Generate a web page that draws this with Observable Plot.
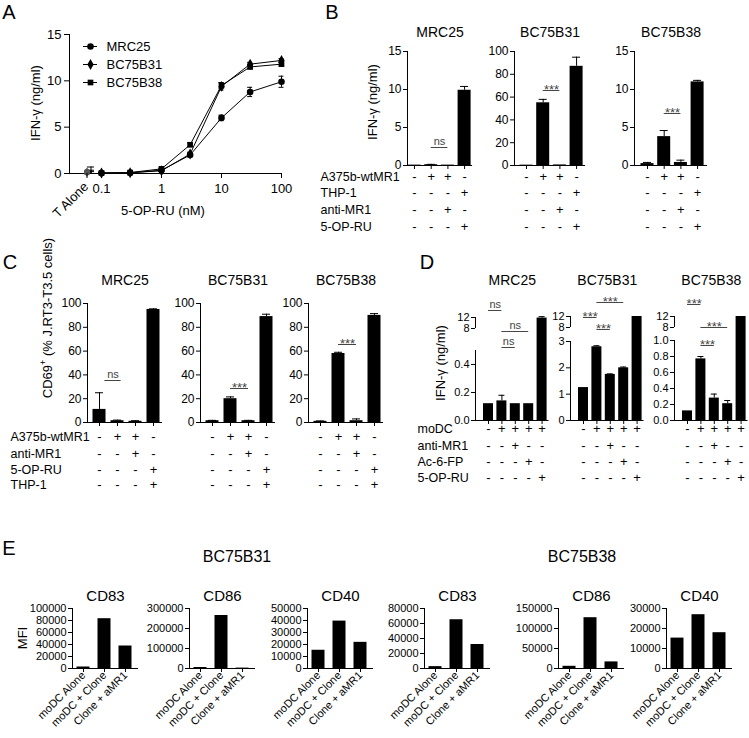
<!DOCTYPE html>
<html><head><meta charset="utf-8">
<script src="https://cdn.jsdelivr.net/npm/d3@7"></script>
<script src="https://cdn.jsdelivr.net/npm/@observablehq/plot@0.6"></script>
<style>
body{margin:0;background:#fff;}
#fig{position:relative;width:749px;height:738px;overflow:hidden;font-family:"Liberation Sans",Arial,Helvetica,sans-serif;color:#000;background:#fff;}
.abs{position:absolute;white-space:nowrap;line-height:1;}
#fig svg{overflow:visible;}
sup{font-size:70%;vertical-align:top;position:relative;top:-0.2em;}
</style></head><body><div id="fig"></div>
<script>
// ---------------- DATA ----------------
// Panel A: IFN-γ vs 5-OP-RU dose
const doses = [0.1, 0.3, 1, 3, 10, 30, 100];
const seriesA = ["MRC25", "BC75B31", "BC75B38"];
const aMRC25 = [0.05, 0.08, 0.35, 2.0, 6.0, 8.8, 9.9];
const aMRC25Err = [0.05, 0.05, 0.1, 0.2, 0.3, 0.5, 0.6];
const aBC75B31 = [0.05, 0.08, 0.3, 2.1, 9.4, 11.8, 12.2];
const aBC75B31Err = [0.05, 0.05, 0.1, 0.2, 0.4, 0.2, 0.2];
const aBC75B38 = [0.05, 0.1, 0.5, 3.1, 9.5, 11.5, 11.8];
const aBC75B38Err = [0.05, 0.05, 0.1, 0.2, 0.3, 0.2, 0.2];
const tAloneLabel = "T Alone";
const tAlone = [0.2, 0.15, 0.1];
const tAloneErr = [0.5, 0.2, 0.1];
const aTicksX = [0.1, 1, 10, 100];
const aTicksY = [0, 5, 10, 15];

// Panel B
const bRows = ["A375b-wtMR1", "THP-1", "anti-MR1", "5-OP-RU"];
const bSigns = [["-","+","+","-"], ["-","-","-","+"], ["-","-","+","-"], ["-","-","-","+"]];
const bMRC25 = [0.05, 0.1, 0.05, 9.9];
const bMRC25Err = [0, 0.05, 0, 0.5];
const bBC75B31 = [0.3, 55, 0.5, 87];
const bBC75B31Err = [0, 3, 0, 8];
const bBC75B38 = [0.25, 3.8, 0.4, 11.0];
const bBC75B38Err = [0.15, 0.8, 0.3, 0.2];
const bTicks15 = [0, 5, 10, 15];
const bTicks100 = [0, 20, 40, 60, 80, 100];

// Panel C
const cRows = ["A375b-wtMR1", "anti-MR1", "5-OP-RU", "THP-1"];
const cSigns = [["-","+","+","-"], ["-","-","+","-"], ["-","-","-","+"], ["-","-","-","+"]];
const cMRC25 = [11, 1.5, 1.0, 95];
const cMRC25Err = [14, 0.5, 0.5, 0.5];
const cBC75B31 = [1.5, 20, 1.5, 89];
const cBC75B31Err = [0.3, 1.5, 0.3, 2];
const cBC75B38 = [1.0, 58, 1.5, 90];
const cBC75B38Err = [0.3, 1, 1.5, 1.5];
const cTicks = [0, 20, 40, 60, 80, 100];

// Panel D
const dRows = ["moDC", "anti-MR1", "Ac-6-FP", "5-OP-RU"];
const dSigns = [["-","+","+","+","+"], ["-","-","+","-","-"], ["-","-","-","+","-"], ["-","-","-","-","+"]];
const dMRC25 = [0.12, 0.14, 0.12, 0.12, 11.8];
const dMRC25Err = [0, 0.04, 0, 0, 0.5];
const dBC75B31 = [1.25, 2.8, 1.75, 2.0, 12];
const dBC75B31Err = [0, 0.04, 0.02, 0.03, 0];
const dBC75B38 = [0.12, 0.77, 0.28, 0.21, 12];
const dBC75B38Err = [0, 0.03, 0.05, 0.04, 0];
const dTicksMRC25 = [0, 0.2, 0.4, 8, 12];
const dTicksBC75B31 = [0, 1, 2, 3, 8, 12];
const dTicksBC75B38 = [0, 0.2, 0.4, 0.6, 0.8, 1.0, 8, 12];

// Panel E
const eConditions = ["moDC Alone", "moDC + Clone", "Clone + aMR1"];
const eB31CD83 = [2500, 83000, 37500];
const eB31CD86 = [5000, 265000, 2000];
const eB31CD40 = [15200, 39500, 21800];
const eB38CD83 = [2500, 65000, 32000];
const eB38CD86 = [5500, 127000, 16500];
const eB38CD40 = [15200, 26900, 17900];
const eTicksB31CD83 = [0, 20000, 40000, 60000, 80000, 100000];
const eTicksB31CD86 = [0, 100000, 200000, 300000];
const eTicksB31CD40 = [0, 10000, 20000, 30000, 40000, 50000];
const eTicksB38CD83 = [0, 20000, 40000, 60000, 80000];
const eTicksB38CD86 = [0, 50000, 100000, 150000];
const eTicksB38CD40 = [0, 10000, 20000, 30000];

// ---------------- RENDERING ----------------
const FONT = '"Liberation Sans", Arial, Helvetica, sans-serif';
const fig = document.getElementById("fig");
const baseStyle = {fontFamily: FONT, fontSize: "12px", color: "black", background: "transparent", overflow: "visible"};

function addText(html, x, y, {size = 13, rotate = 0, anchor = "middle"} = {}) {
  const d = document.createElement("div");
  d.className = "abs";
  d.innerHTML = html;
  d.style.fontSize = size + "px";
  d.style.left = x + "px";
  d.style.top = y + "px";
  const tx = anchor === "middle" ? "-50%" : anchor === "end" ? "-100%" : "0%";
  d.style.transform = `translate(${tx}, -50%) rotate(${rotate}deg)`;
  fig.appendChild(d);
}
function put(svg, left, top) {
  svg.style.position = "absolute";
  svg.style.left = left + "px";
  svg.style.top = top + "px";
  fig.appendChild(svg);
}

function barPanel(c) {
  const n = c.values.length;
  const ML = 90, MR = 20, MT = 70, MB = 110;
  const frameW = c.first + (n - 1) * c.step + c.end;
  const frameH = c.bottom - c.top;
  const W = ML + frameW + MR, H = MT + frameH + MB;
  const offX = c.axisX - ML, offY = c.top - MT;
  const idx = d3.range(1, n + 1);
  const x0 = 1 - c.first / c.step, x1 = n + c.end / c.step;
  const yDom = c.yDomain;
  const fmt = c.yFmt || (d => String(d));
  let yOpts, invertPage, axisTicks, axisFmt;
  if (c.yRange) {
    // broken axis: value -> pixels above the baseline, piecewise
    const f = d3.scaleLinear().domain(yDom).range(c.yRange.map(p => c.bottom - p));
    yOpts = {domain: [0, frameH], range: [MT + frameH, MT], transform: v => f(v)};
    invertPage = p => f.invert(c.bottom - p);
    axisTicks = c.yTicks.map(t => f(t));
    axisFmt = v => fmt(Math.round(f.invert(v) * 1000) / 1000);
  } else {
    const yPage = d3.scaleLinear().domain(yDom).range([c.bottom, c.top]);
    yOpts = {domain: yDom, range: [MT + frameH, MT]};
    invertPage = p => yPage.invert(p);
    axisTicks = c.yTicks;
    axisFmt = fmt;
  }
  const data = idx.map(i => ({i, v: c.values[i - 1], e: c.errs ? c.errs[i - 1] : 0}));
  const errData = data.filter(d => d.e > 0);
  const hw = c.barW / 2 / c.step;
  const cap = (c.capW ?? 4) / c.step;
  const segs = c.segments || [[yDom[0], yDom[yDom.length - 1]]];
  const tickFont = c.tickFont || 12;
  const marks = [
    Plot.rect(data, {x1: d => d.i - hw, x2: d => d.i + hw, y1: 0, y2: "v", fill: "black"}),
    Plot.ruleX(errData, {x: "i", y1: "v", y2: d => d.v + d.e, strokeWidth: 1}),
    Plot.ruleY(errData, {y: d => d.v + d.e, x1: d => d.i - cap, x2: d => d.i + cap, strokeWidth: 1}),
    Plot.ruleY([0], {strokeWidth: 1}),
    ...segs.map(s => Plot.ruleX([x0], {y1: s[0], y2: s[1], strokeWidth: 1})),
    Plot.axisY({ticks: axisTicks, tickFormat: axisFmt, tickSize: 4, tickPadding: 2, fontSize: tickFont, label: null}),
    c.xLabels
      ? Plot.axisX({ticks: idx, tickFormat: i => c.xLabels[i - 1], tickSize: 4, tickPadding: 1, tickRotate: -45, fontSize: c.xFont || 11, label: null})
      : Plot.axisX({ticks: idx, tickFormat: () => "", tickSize: 4, label: null}),
    Plot.text([c.title], {frameAnchor: "top", dy: c.titleY - c.top, fontSize: c.titleFont || 14})
  ];
  if (c.signs) {
    c.signs.forEach((row, r) => {
      marks.push(Plot.text(idx, {x: d => d, text: d => row[d - 1], frameAnchor: "bottom", dy: c.rowY[r] - c.bottom, fontSize: 13}));
    });
  }
  if (c.rowLabels) {
    c.rowLabels.forEach((lab, r) => {
      marks.push(Plot.text([lab], {frameAnchor: "bottom-left", dx: c.rowLabelX - c.axisX, dy: c.rowY[r] - c.bottom, textAnchor: "start", fontSize: 12.5}));
    });
  }
  if (c.ann) {
    marks.push(Plot.ruleY(c.ann, {y: a => invertPage(a.y), x1: a => a.from, x2: a => a.to, stroke: "#444", strokeWidth: 1}));
    const ns = c.ann.filter(a => a.label === "ns"), st = c.ann.filter(a => a.label !== "ns");
    marks.push(Plot.text(ns, {x: a => (a.from + a.to) / 2, y: a => invertPage(a.y), dy: -6, text: "label", fontSize: 11, fill: "#444"}));
    marks.push(Plot.text(st, {x: a => (a.from + a.to) / 2, y: a => invertPage(a.y), dy: -1, text: "label", fontSize: 13, fill: "#444"}));
  }
  const svg = Plot.plot({
    width: W, height: H, marginLeft: ML, marginRight: MR, marginTop: MT, marginBottom: MB,
    x: {domain: [x0, x1]},
    y: yOpts,
    style: baseStyle,
    marks
  });
  put(svg, offX, offY);
}

// ---------- Panel A ----------
(function panelA() {
  const left = 69, right = 281, top = 34, bottom = 173;
  const ML = 70, MR = 30, MT = 20, MB = 60;
  const W = ML + (right - left) + MR, H = MT + (bottom - top) + MB;
  const offX = left - ML, offY = top - MT;
  const xPage = d3.scaleLog().domain([0.1, 100]).range([101, 281]);
  const xAxisVal = xPage.invert(left);
  const vals = [aMRC25, aBC75B31, aBC75B38], errs = [aMRC25Err, aBC75B31Err, aBC75B38Err];
  const long = seriesA.flatMap((s, k) => doses.map((d, j) => ({series: s, dose: d, v: vals[k][j], e: errs[k][j]})));
  const sym = {MRC25: ["circle", 3.3], BC75B31: ["diamond", 3.3], BC75B38: ["square", 3.2]};
  const marks = [
    Plot.ruleY([0], {strokeWidth: 1}),
    Plot.ruleX([xAxisVal], {y1: 0, y2: 15, strokeWidth: 1}),
    Plot.line(long, {x: "dose", y: "v", z: "series", stroke: "black", strokeWidth: 1}),
    Plot.ruleX(long, {x: "dose", y1: d => d.v - d.e, y2: d => d.v + d.e, strokeWidth: 1}),
    Plot.ruleY(long, {y: d => d.v + d.e, x1: d => d.dose / 1.1, x2: d => d.dose * 1.1, strokeWidth: 1}),
    Plot.ruleY(long, {y: d => d.v - d.e, x1: d => d.dose / 1.1, x2: d => d.dose * 1.1, strokeWidth: 1}),
    ...seriesA.map(s => Plot.dot(long.filter(d => d.series === s), {x: "dose", y: "v", symbol: sym[s][0], r: sym[s][1], fill: "black", stroke: "none"})),
    Plot.axisY({ticks: aTicksY, tickSize: 5, tickPadding: 3, fontSize: 13, label: null}),
    Plot.axisX({ticks: aTicksX, tickFormat: d => String(d), tickSize: 5, tickPadding: 5, fontSize: 13, label: null})
  ];
  const svg = Plot.plot({
    width: W, height: H, marginLeft: ML, marginRight: MR, marginTop: MT, marginBottom: MB,
    x: {type: "log", domain: [0.1, 100], range: [101 - offX, 281 - offX]},
    y: {domain: [0, 15], range: [bottom - offY, top - offY]},
    style: baseStyle, marks
  });
  put(svg, offX, offY);

  // T Alone category segment
  const tl = 69, tr = 103, tML = 10, tMR = 10;
  const tW = tML + (tr - tl) + tMR;
  const tData = seriesA.map((s, k) => ({series: s, cat: tAloneLabel, v: tAlone[k], e: tAloneErr[k]}));
  const svg2 = Plot.plot({
    width: tW, height: H, marginLeft: tML, marginRight: tMR, marginTop: MT, marginBottom: MB,
    x: {type: "band", domain: [tAloneLabel], paddingInner: 0.8, paddingOuter: 0.4},
    y: {domain: [0, 15], range: [bottom - offY, top - offY], axis: null},
    style: baseStyle,
    marks: [
      Plot.ruleX(tData, {x: "cat", y1: d => Math.max(0, d.v - d.e), y2: d => d.v + d.e, dx: 4, strokeWidth: 1}),
      Plot.tickY(tData, {x: "cat", y: d => d.v + d.e, dx: 4}),
      ...seriesA.map(s => Plot.dot(tData.filter(d => d.series === s), {x: "cat", y: "v", symbol: sym[s][0], r: sym[s][1] * 0.9, fill: "#555"})),
      Plot.axisX({ticks: [tAloneLabel], tickFormat: () => "", tickSize: 5, label: null}),
      Plot.text([tAloneLabel], {x: d => d, frameAnchor: "bottom", dy: 14, dx: 2, rotate: -45, textAnchor: "end", fontSize: 13})
    ]
  });
  put(svg2, tl - tML, offY);

  // legend
  const leg = Plot.plot({
    width: 110, height: 60, margin: 0,
    x: {domain: [0, 110], range: [0, 110], axis: null},
    y: {type: "point", domain: seriesA, range: [9.7, 45.7], padding: 0, axis: null},
    style: baseStyle,
    marks: [
      Plot.ruleY(seriesA, {y: d => d, x1: 3, x2: 17, strokeWidth: 1}),
      ...seriesA.map(s => Plot.dot([s], {x: 10, y: d => d, symbol: sym[s][0], r: sym[s][1], fill: "black"})),
      Plot.text(seriesA, {x: 26, y: d => d, text: d => d, textAnchor: "start", fontSize: 13})
    ]
  });
  put(leg, 80, 36);
})();

// ---------- Panel B ----------
const bCommon = {top: 51, bottom: 165, step: 16.7, barW: 13, titleY: 27, rowY: [181, 197, 214, 231], signs: bSigns};
barPanel({...bCommon, axisX: 407, first: 7, end: 8, values: bMRC25, errs: bMRC25Err, yDomain: [0, 15], yTicks: bTicks15, title: "MRC25",
  rowLabels: bRows, rowLabelX: 320, ann: [{from: 2, to: 3, label: "ns", y: 147}]});
barPanel({...bCommon, axisX: 514, first: 12, end: 9, values: bBC75B31, errs: bBC75B31Err, yDomain: [0, 100], yTicks: bTicks100, title: "BC75B31",
  ann: [{from: 2, to: 3, label: "***", y: 90}]});
barPanel({...bCommon, axisX: 634, first: 13, end: 10, values: bBC75B38, errs: bBC75B38Err, yDomain: [0, 15], yTicks: bTicks15, title: "BC75B38",
  ann: [{from: 2, to: 3, label: "***", y: 113}]});

// ---------- Panel C ----------
const cCommon = {top: 303, bottom: 422, step: 18, first: 12, end: 9, barW: 13, titleY: 275, rowY: [440, 457, 473, 488], signs: cSigns, yDomain: [0, 100], yTicks: cTicks};
barPanel({...cCommon, axisX: 87, values: cMRC25, errs: cMRC25Err, title: "MRC25", rowLabels: cRows, rowLabelX: 10,
  ann: [{from: 1.3, to: 2.2, label: "ns", y: 380}]});
barPanel({...cCommon, axisX: 200, values: cBC75B31, errs: cBC75B31Err, title: "BC75B31", ann: [{from: 2, to: 3, label: "***", y: 388}]});
barPanel({...cCommon, axisX: 308, values: cBC75B38, errs: cBC75B38Err, title: "BC75B38", ann: [{from: 2, to: 3, label: "***", y: 344}]});

// ---------- Panel D ----------
const fmt1 = d => d >= 8 ? String(d) : d.toFixed(1);
const dCommon = {top: 316, bottom: 420, step: 13.4, first: 13, end: 7, barW: 10, capW: 3, titleY: 275, rowY: [433, 450, 466, 482], signs: dSigns, tickFont: 11};
barPanel({...dCommon, axisX: 475, values: dMRC25, errs: dMRC25Err, title: "MRC25",
  yDomain: [0, 0.5, 8, 12], yRange: [420, 350, 328, 317], segments: [[0, 0.5], [8, 12]], yTicks: dTicksMRC25, yFmt: fmt1,
  rowLabels: dRows, rowLabelX: 417,
  ann: [{from: 1, to: 2, label: "ns", y: 310}, {from: 2, to: 4, label: "ns", y: 331}, {from: 2, to: 3, label: "ns", y: 347}]});
barPanel({...dCommon, axisX: 570, values: dBC75B31, errs: dBC75B31Err, title: "BC75B31",
  yDomain: [0, 3, 8, 12], yRange: [420, 341, 327, 316], segments: [[0, 3], [8, 12]], yTicks: dTicksBC75B31,
  ann: [{from: 2, to: 4, label: "***", y: 302}, {from: 1, to: 2, label: "***", y: 317}, {from: 2, to: 3, label: "***", y: 329}]});
barPanel({...dCommon, axisX: 674, values: dBC75B38, errs: dBC75B38Err, title: "BC75B38",
  yDomain: [0, 1, 8, 12], yRange: [420, 340, 327, 316], segments: [[0, 1], [8, 12]], yTicks: dTicksBC75B38, yFmt: fmt1,
  ann: [{from: 1, to: 2, label: "***", y: 304}, {from: 2, to: 4, label: "***", y: 327}, {from: 2, to: 3, label: "***", y: 345}]});

// ---------- Panel E ----------
const eCommon = {top: 608, bottom: 668, step: 21, first: 11, end: 13, barW: 13, titleY: 590, titleFont: 15, tickFont: 11, xLabels: eConditions, xFont: 11};
barPanel({...eCommon, axisX: 72, values: eB31CD83, yDomain: [0, 100000], yTicks: eTicksB31CD83, title: "CD83"});
barPanel({...eCommon, axisX: 189, values: eB31CD86, yDomain: [0, 300000], yTicks: eTicksB31CD86, title: "CD86"});
barPanel({...eCommon, axisX: 307, values: eB31CD40, yDomain: [0, 50000], yTicks: eTicksB31CD40, title: "CD40"});
barPanel({...eCommon, axisX: 424, values: eB38CD83, yDomain: [0, 80000], yTicks: eTicksB38CD83, title: "CD83"});
barPanel({...eCommon, axisX: 558, values: eB38CD86, yDomain: [0, 150000], yTicks: eTicksB38CD86, title: "CD86"});
barPanel({...eCommon, axisX: 666, values: eB38CD40, yDomain: [0, 30000], yTicks: eTicksB38CD40, title: "CD40"});

// ---------- Labels ----------
addText("A", 9, 12, {size: 20});
addText("B", 332, 12, {size: 20});
addText("C", 10, 262, {size: 20});
addText("D", 427, 262, {size: 20});
addText("E", 9, 548, {size: 20});
addText("IFN-γ (ng/ml)", 35, 103, {size: 13, rotate: -90});
addText("5-OP-RU (nM)", 163, 210, {size: 13});
addText("IFN-γ (ng/ml)", 372, 102, {size: 13, rotate: -90});
addText("CD69<sup>+</sup> (% J.RT3-T3.5 cells)", 47, 318, {size: 13, rotate: -90});
addText("IFN-γ (ng/ml)", 440, 363, {size: 13, rotate: -90});
addText("MFI", 22, 638, {size: 13, rotate: -90});
addText("BC75B31", 237, 557, {size: 16});
addText("BC75B38", 582, 557, {size: 16});
</script>
</body></html>
